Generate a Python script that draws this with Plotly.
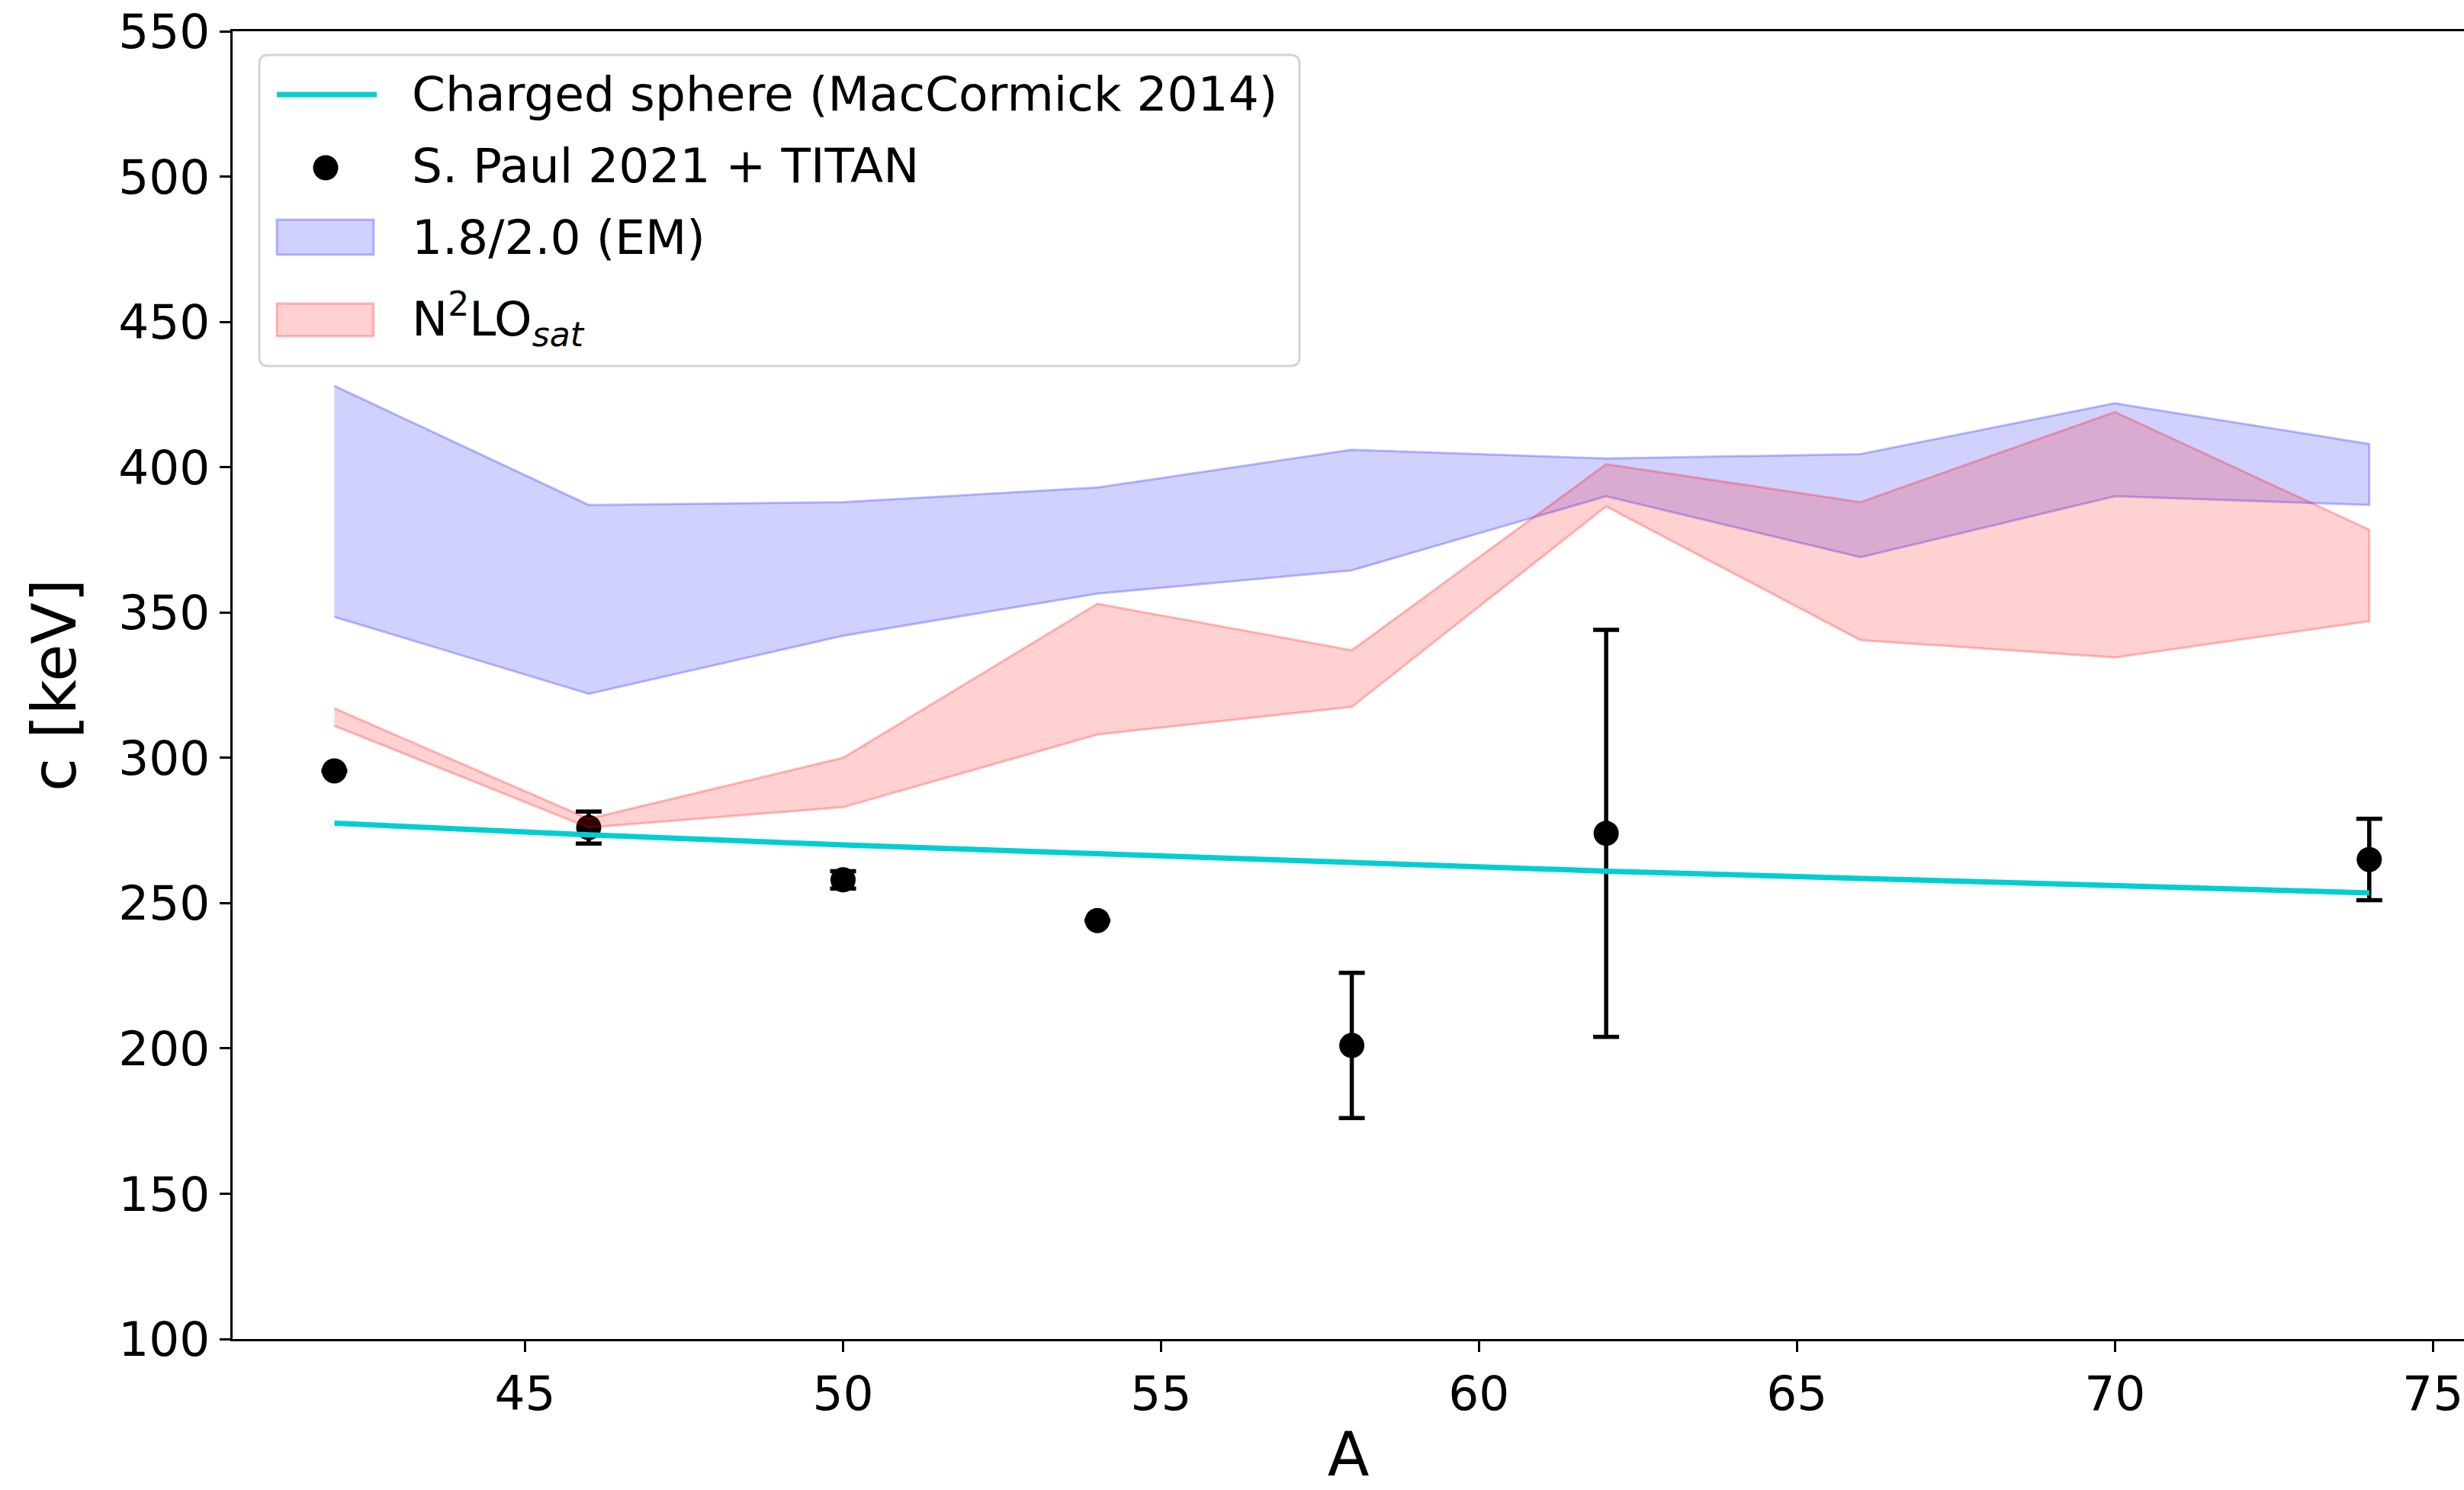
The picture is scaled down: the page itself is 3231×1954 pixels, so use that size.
import plotly.graph_objects as go

# Mass numbers
A_vals = [42, 46, 50, 54, 58, 62, 66, 70, 74]

# Charged sphere (MacCormick 2014)
sphere_c = [277.5, 273.5, 270.0, 267.0, 264.0, 261.0, 258.5, 256.0, 253.5]

# S. Paul 2021 + TITAN data (None = no visible error bar)
exp_A = [42, 46, 50, 54, 58, 62, 74]
exp_c = [295.5, 276.0, 258.0, 244.0, 201.0, 274.0, 265.0]
exp_err = [None, 5.5, 3.0, None, 25.0, 70.0, 14.0]

# 1.8/2.0 (EM) band
em_upper = [428.0, 387.0, 388.0, 393.0, 406.0, 403.0, 404.5, 422.0, 408.0]
em_lower = [348.5, 322.0, 342.0, 356.5, 364.5, 390.0, 369.0, 390.0, 387.0]

# N2LO_sat band
n2_upper = [317.0, 279.0, 300.0, 353.0, 337.0, 401.0, 388.0, 419.0, 378.5]
n2_lower = [311.0, 276.0, 283.0, 308.0, 317.5, 386.5, 340.5, 334.5, 347.0]

legend_labels = ["Charged sphere (MacCormick 2014)", "S. Paul 2021 + TITAN",
                 "1.8/2.0 (EM)", "N<sup>2</sup>LO<sub><i>sat</i></sub>"]

FONT = "DejaVu Sans"
W, H = 3231, 1954
ML, MR, MT, MB = 305, 0, 41, 198
PW, PH = W - ML - MR, H - MT - MB

CYAN = "#00CED1"
EM_FILL, EM_EDGE = "rgba(0,0,255,0.18)", "rgba(0,0,255,0.25)"
N2_FILL, N2_EDGE = "rgba(255,0,0,0.18)", "rgba(255,0,0,0.25)"

fig = go.Figure()

fig.add_trace(go.Scatter(
    x=exp_A, y=exp_c, mode="markers", name=legend_labels[1],
    marker=dict(color="black", size=33),
    error_y=dict(type="data", array=exp_err, visible=True, color="black",
                 thickness=5.5, width=17),
))
fig.add_trace(go.Scatter(
    x=A_vals + A_vals[::-1], y=em_upper + em_lower[::-1],
    fill="toself", fillcolor=EM_FILL, line=dict(color=EM_EDGE, width=3),
    mode="lines", name=legend_labels[2],
))
fig.add_trace(go.Scatter(
    x=A_vals + A_vals[::-1], y=n2_upper + n2_lower[::-1],
    fill="toself", fillcolor=N2_FILL, line=dict(color=N2_EDGE, width=3),
    mode="lines", name=legend_labels[3],
))
fig.add_trace(go.Scatter(
    x=A_vals, y=sphere_c, mode="lines", name=legend_labels[0],
    line=dict(color=CYAN, width=7),
))


# ---- legend drawn in paper coordinates (pixel helpers) ----
def px(X):
    return (X - ML) / PW


def py(Y):
    return (H - MB - Y) / PH


def rounded_rect(x0, y0, x1, y1, r):
    rx, ry = r / PW, r / PH
    X0, X1, Y0, Y1 = px(x0), px(x1), py(y1), py(y0)  # Y0 bottom, Y1 top
    return (f"M{X0+rx},{Y1} L{X1-rx},{Y1} Q{X1},{Y1} {X1},{Y1-ry} "
            f"L{X1},{Y0+ry} Q{X1},{Y0} {X1-rx},{Y0} L{X0+rx},{Y0} "
            f"Q{X0},{Y0} {X0},{Y0+ry} L{X0},{Y1-ry} Q{X0},{Y1} {X0+rx},{Y1} Z")


shapes = [
    dict(type="path", xref="paper", yref="paper",
         path=rounded_rect(340, 72, 1704, 480, 12),
         fillcolor="rgba(255,255,255,0.8)", line=dict(color="#d4d4d4", width=3)),
    dict(type="line", xref="paper", yref="paper",
         x0=px(363), x1=px(494), y0=py(124), y1=py(124),
         line=dict(color=CYAN, width=7)),
    dict(type="circle", xref="paper", yref="paper",
         x0=px(427 - 16.5), x1=px(427 + 16.5), y0=py(220 - 16.5), y1=py(220 + 16.5),
         fillcolor="black", line=dict(color="black", width=0)),
    dict(type="rect", xref="paper", yref="paper",
         x0=px(363), x1=px(490), y0=py(288), y1=py(334),
         fillcolor=EM_FILL, line=dict(color=EM_EDGE, width=3)),
    dict(type="rect", xref="paper", yref="paper",
         x0=px(363), x1=px(490), y0=py(398), y1=py(441),
         fillcolor=N2_FILL, line=dict(color=N2_EDGE, width=3)),
]

row_y = [124, 218, 311, 418]
annotations = [
    dict(xref="paper", yref="paper", x=px(538), y=py(yy), xanchor="left",
         yanchor="middle", text=t, showarrow=False,
         font=dict(family=FONT, size=63, color="black"))
    for t, yy in zip(legend_labels, row_y)
]

fig.update_layout(
    width=W, height=H,
    margin=dict(l=ML, r=MR, t=MT, b=MB),
    plot_bgcolor="white", paper_bgcolor="white",
    font=dict(family=FONT, size=63, color="black"),
    showlegend=False,
    shapes=shapes, annotations=annotations,
    xaxis=dict(
        range=[40.4, 75.49],
        tickmode="array", tickvals=[45, 50, 55, 60, 65, 70, 75],
        ticks="outside", ticklen=14, tickwidth=3, tickcolor="black",
        showline=True, linecolor="black", linewidth=3, mirror=True,
        showgrid=False, zeroline=False,
        tickfont=dict(family=FONT, size=63),
        title=dict(text="A", font=dict(family=FONT, size=80), standoff=32),
    ),
    yaxis=dict(
        range=[100, 550],
        tickmode="array", tickvals=[100, 150, 200, 250, 300, 350, 400, 450, 500, 550],
        ticks="outside", ticklen=14, tickwidth=3, tickcolor="black",
        showline=True, linecolor="black", linewidth=3, mirror=False,
        showgrid=False, zeroline=False,
        tickfont=dict(family=FONT, size=63),
        title=dict(text="c [keV]", font=dict(family=FONT, size=80), standoff=30),
    ),
)

fig.write_html("out.html")
